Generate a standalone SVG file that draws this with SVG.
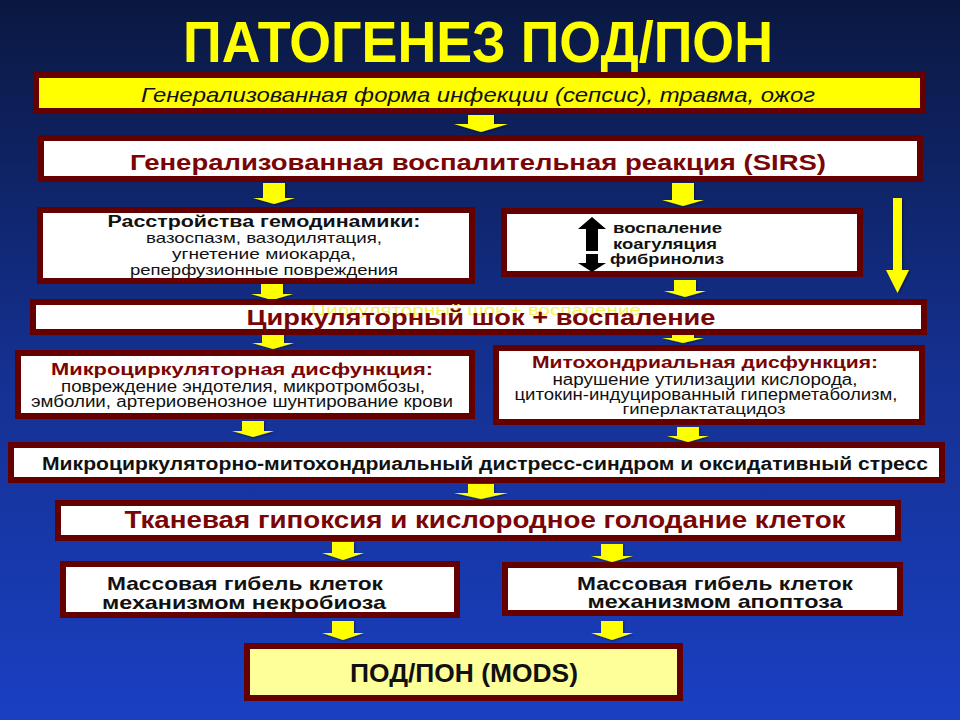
<svg xmlns="http://www.w3.org/2000/svg" width="960" height="720" viewBox="0 0 960 720">
<defs>
<linearGradient id="bg" x1="0" y1="0" x2="0" y2="1">
<stop offset="0" stop-color="#0a1840"/>
<stop offset="0.5" stop-color="#14308f"/>
<stop offset="1" stop-color="#1a3fc2"/>
</linearGradient>
<filter id="sh" x="-10%" y="-10%" width="130%" height="140%">
<feDropShadow dx="1" dy="1" stdDeviation="0.8" flood-color="#000" flood-opacity="0.5"/>
</filter>
</defs>
<style>
.box{stroke:#650000;stroke-width:6;fill:#ffffff}
.ybox{stroke:#650000;stroke-width:6;fill:#ffff00}
.lbox{stroke:#650000;stroke-width:6;fill:#ffff99}
.ya{fill:#ffff00;filter:url(#sh)}
.t{font-family:"Liberation Sans",Arial,"Noto Sans CJK SC",sans-serif;text-anchor:middle}
.s{font-family:"Liberation Sans",Arial,"Noto Sans CJK SC",sans-serif;text-anchor:start}
.n{font-family:"Liberation Sans Narrow","Liberation Sans",Arial,sans-serif;text-anchor:middle;font-weight:bold}
.b{font-weight:bold}
.red{fill:#7a0505}
.blk{fill:#111111}
</style>
<rect x="0" y="0" width="960" height="720" fill="url(#bg)"/>

<text x="478" y="62" class="n" font-size="58" fill="#ffff00" textLength="590" lengthAdjust="spacingAndGlyphs">ПАТОГЕНЕЗ ПОД/ПОН</text>

<g id="connectors">
<path class="ya" d="M468,115h26v9h14l-27,8l-27,-8h14z"/>
<path class="ya" d="M263,183h22v15h10l-21,6l-21,-6h10z"/>
<path class="ya" d="M672,183h22v17h10l-21,6l-21,-6h10z"/>
<path class="ya" d="M261,284h22v10h10l-21,6l-21,-6h10z"/>
<path class="ya" d="M674,280h22v11h10l-21,6l-21,-6h10z"/>
<path class="ya" d="M262,333h22v10h10l-21,6l-21,-6h10z"/>
<path class="ya" d="M672,333h22v5h10l-21,5l-21,-5h10z"/>
<path class="ya" d="M242,421h22v10h10l-21,6l-21,-6h10z"/>
<path class="ya" d="M677,427h22v9h10l-21,6l-21,-6h10z"/>
<path class="ya" d="M468,484h26v9h14l-27,6l-27,-6h14z"/>
<path class="ya" d="M332,542h22v11h10l-21,7l-21,-7h10z"/>
<path class="ya" d="M601,544h22v12h10l-21,6l-21,-6h10z"/>
<path class="ya" d="M332,621h22v12h10l-21,7l-21,-7h10z"/>
<path class="ya" d="M601,621h22v12h10l-21,7l-21,-7h10z"/>
<path class="ya" d="M893,198h9v72h7l-11.5,23l-11.5,-23h7z"/>
</g>

<g id="n1">
<rect class="ybox" x="36" y="75" width="887" height="36"/>
<text x="478" y="102" class="t" font-size="21" font-style="italic" fill="#111" textLength="674" lengthAdjust="spacingAndGlyphs">Генерализованная форма инфекции (сепсис), травма, ожог</text>
</g>

<g id="n2">
<rect class="box" x="41" y="138" width="879" height="41"/>
<text x="478" y="170" class="t b red" font-size="22" textLength="696" lengthAdjust="spacingAndGlyphs">Генерализованная воспалительная реакция (SIRS)</text>
</g>

<g id="n3">
<rect class="box" x="40" y="210" width="432" height="71"/>
<text x="264" y="227" class="t b blk" font-size="16" textLength="313" lengthAdjust="spacingAndGlyphs">Расстройства гемодинамики:</text>
<text x="264" y="243" class="t blk" font-size="15" textLength="236" lengthAdjust="spacingAndGlyphs">вазоспазм, вазодилятация,</text>
<text x="264" y="259" class="t blk" font-size="15" textLength="184" lengthAdjust="spacingAndGlyphs">угнетение миокарда,</text>
<text x="264" y="275" class="t blk" font-size="15" textLength="268" lengthAdjust="spacingAndGlyphs">реперфузионные повреждения</text>
</g>

<g id="n4">
<rect class="box" x="504" y="211" width="356" height="63"/>
<path d="M592,217l14,12h-8v22h-12v-22h-8z" fill="#000"/>
<path d="M592,272l14,-9h-8v-9h-12v9h-8z" fill="#000"/>
<text x="613" y="233" class="s b blk" font-size="15" textLength="109" lengthAdjust="spacingAndGlyphs">воспаление</text>
<text x="613" y="249" class="s b blk" font-size="15" textLength="104" lengthAdjust="spacingAndGlyphs">коагуляция</text>
<text x="610" y="264" class="s b blk" font-size="15" textLength="114" lengthAdjust="spacingAndGlyphs">фибринолиз</text>
</g>

<g id="n5">
<rect class="box" x="33" y="302" width="891" height="30"/>
<text x="476" y="315" class="t" font-size="14" fill="#f4f060" textLength="330" lengthAdjust="spacingAndGlyphs">Циркуляторный шок + воспаление</text>
<text x="481" y="325" class="t b red" font-size="22" textLength="469" lengthAdjust="spacingAndGlyphs">Циркуляторный шок + воспаление</text>
</g>

<g id="n6">
<rect class="box" x="18" y="353" width="454" height="63"/>
<text x="242" y="375" class="t b red" font-size="17" textLength="382" lengthAdjust="spacingAndGlyphs">Микроциркуляторная дисфункция:</text>
<text x="243" y="392" class="t blk" font-size="16" textLength="364" lengthAdjust="spacingAndGlyphs">повреждение эндотелия, микротромбозы,</text>
<text x="242" y="407" class="t blk" font-size="16" textLength="422" lengthAdjust="spacingAndGlyphs">эмболии, артериовенозное шунтирование крови</text>
</g>

<g id="n7">
<rect class="box" x="496" y="348" width="426" height="74"/>
<text x="705" y="368" class="t b red" font-size="17" textLength="346" lengthAdjust="spacingAndGlyphs">Митохондриальная дисфункция:</text>
<text x="705" y="385" class="t blk" font-size="16" textLength="305" lengthAdjust="spacingAndGlyphs">нарушение утилизации кислорода,</text>
<text x="706" y="400" class="t blk" font-size="16" textLength="383" lengthAdjust="spacingAndGlyphs">цитокин-индуцированный гиперметаболизм,</text>
<text x="704" y="414" class="t blk" font-size="15" textLength="163" lengthAdjust="spacingAndGlyphs">гиперлактатацидоз</text>
</g>

<g id="n8">
<rect class="box" x="11" y="445" width="931" height="35"/>
<text x="485" y="470" class="n blk" font-size="18" textLength="886" lengthAdjust="spacingAndGlyphs">Микроциркуляторно-митохондриальный дистресс-синдром и оксидативный стресс</text>
</g>

<g id="n9">
<rect class="box" x="58" y="503" width="840" height="35"/>
<text x="485" y="528" class="n red" font-size="23" textLength="721" lengthAdjust="spacingAndGlyphs">Тканевая гипоксия и кислородное голодание клеток</text>
</g>

<g id="n10">
<rect class="box" x="63" y="564" width="394" height="51"/>
<text x="245" y="590" class="n blk" font-size="19" textLength="276" lengthAdjust="spacingAndGlyphs">Массовая гибель клеток</text>
<text x="244" y="609" class="n blk" font-size="19" textLength="284" lengthAdjust="spacingAndGlyphs">механизмом некробиоза</text>
</g>

<g id="n11">
<rect class="box" x="505" y="565" width="395" height="48"/>
<text x="715" y="590" class="n blk" font-size="19" textLength="276" lengthAdjust="spacingAndGlyphs">Массовая гибель клеток</text>
<text x="715" y="608" class="n blk" font-size="19" textLength="255" lengthAdjust="spacingAndGlyphs">механизмом апоптоза</text>
</g>

<g id="n12">
<rect class="lbox" x="247" y="646" width="433" height="52"/>
<text x="464" y="682" class="n blk" font-size="25" textLength="228" lengthAdjust="spacingAndGlyphs">ПОД/ПОН (MODS)</text>
</g>
</svg>
